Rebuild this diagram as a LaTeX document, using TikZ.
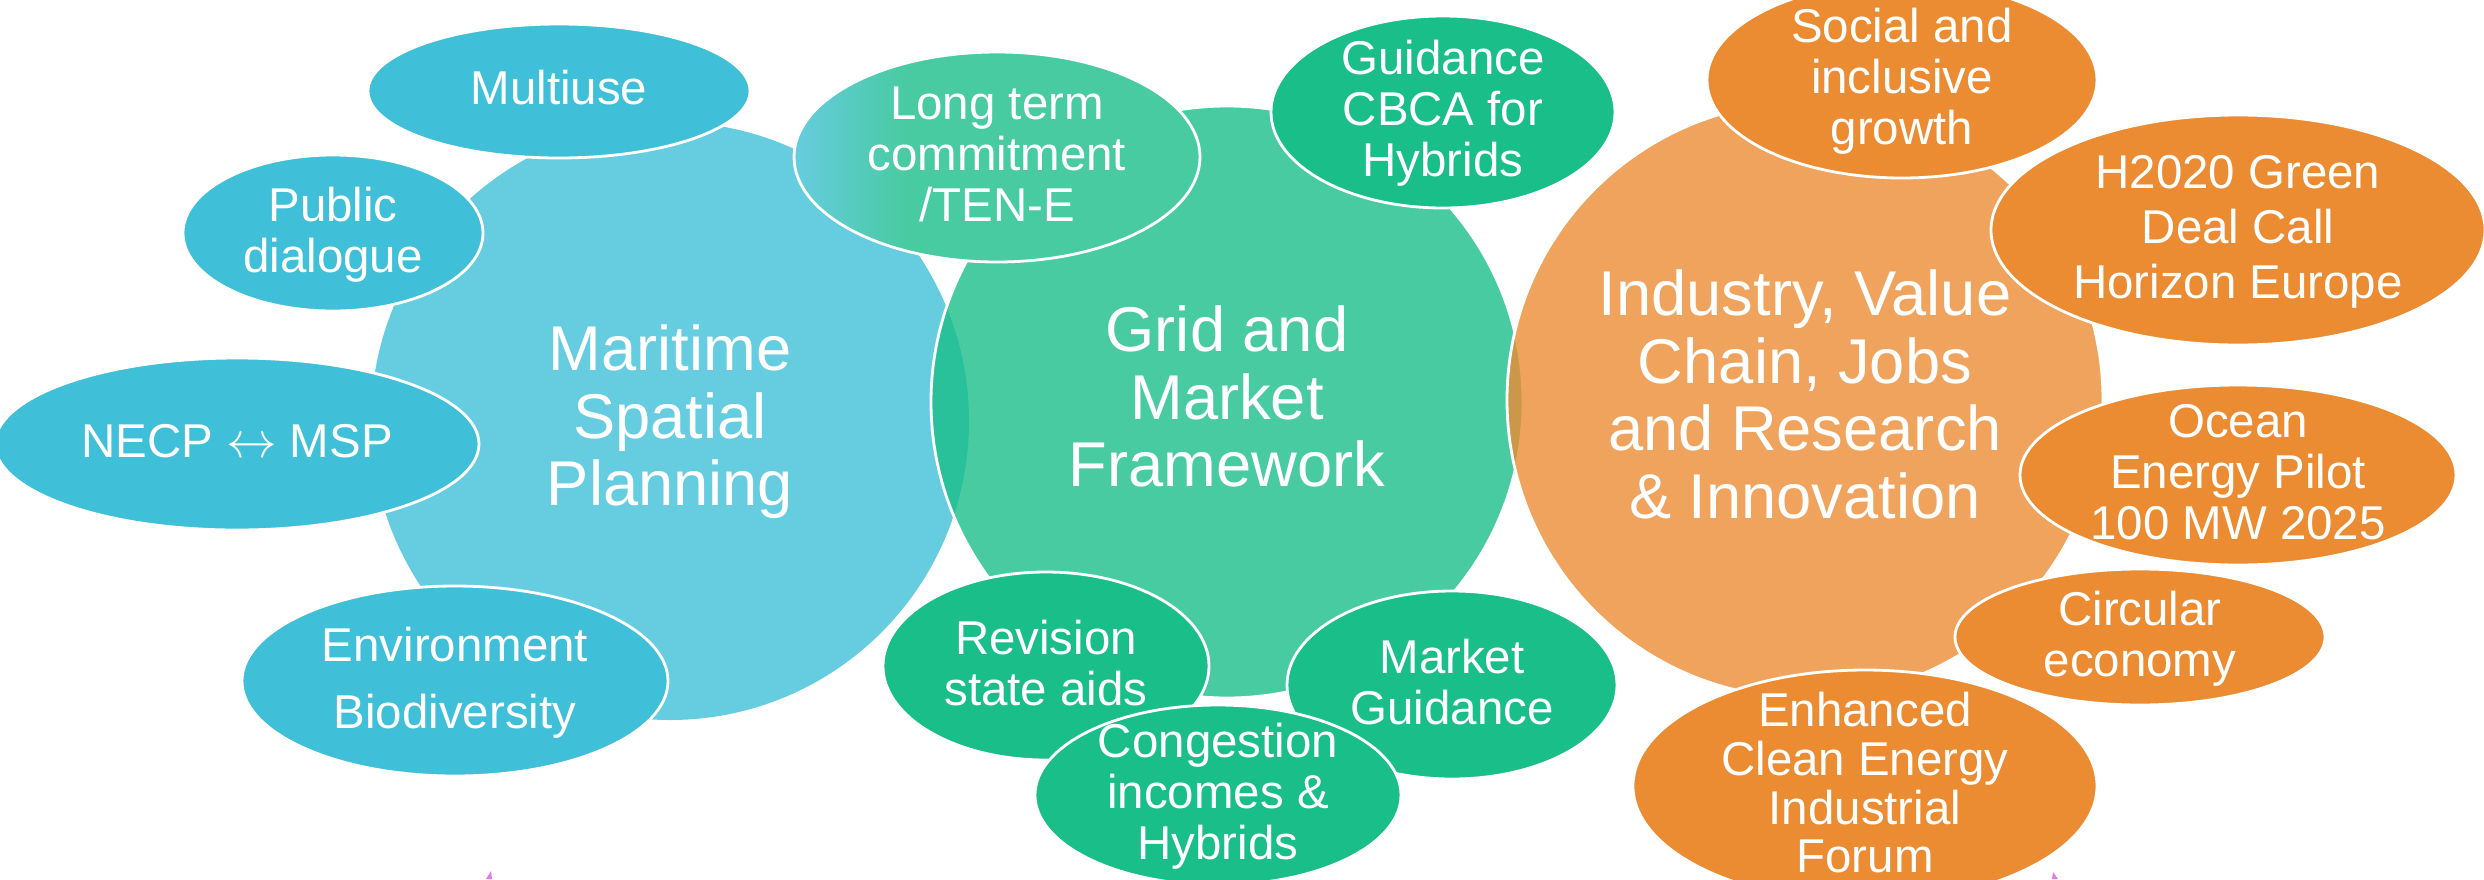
\documentclass[tikz,border=0pt]{standalone}
\usepackage{fontspec}
\setmainfont{Liberation Sans}
\usetikzlibrary{shapes.geometric}

\definecolor{mspblue}{HTML}{40BFD8}
\definecolor{gridgreen}{HTML}{1ABE88}
\definecolor{indorange}{HTML}{EB8C33}
\definecolor{markpink}{HTML}{E27CE8}
\pgfdeclarehorizontalshading{bluetogreen}{100bp}{color(0bp)=(mspblue!80!white); color(25bp)=(mspblue!80!white); color(39bp)=(gridgreen!80!white); color(100bp)=(gridgreen!80!white)}
% text of a bubble, kept out of the size of the shape
\newcommand{\bub}[1]{\vbox to 0pt{\kern2pt\vss\hbox to 0pt{\hss\begin{tabular}{@{}c@{}}#1\end{tabular}\hss}\vss}}

\begin{document}
\begin{tikzpicture}[bignode/.style={circle,inner sep=0pt,fill opacity=0.8,text opacity=1,text=white,font=\fontsize{18}{19.2}\selectfont},
  smallnode/.style={ellipse,inner sep=0pt,draw=white,line width=0.8pt,text=white,font=\fontsize{13.5}{14.5}\selectfont}]
\useasboundingbox (0,0) rectangle (24.84,8.79);
% three main fields
\node [bignode,fill=mspblue,minimum size=5.98cm] (msp) at (6.70,4.58) {\bub{Maritime\\Spatial\\Planning}};
\node [bignode,fill=gridgreen,draw=white,line width=0.8pt,minimum size=5.92cm] (grid) at (12.27,4.77) {\bub{Grid and\\Market\\Framework}};
\node [bignode,fill=indorange,draw=white,line width=0.8pt,minimum size=5.96cm] (industry) at (18.05,4.79) {\bub{Industry, Value\\Chain, Jobs\\and Research\\\& Innovation}};
% actions
  \foreach \nm/\x/\y/\ew/\eh/\txt in {multiuse/5.59/7.88/3.82/1.34/{Multiuse},
    dialogue/3.33/6.46/3.00/1.56/{Public\\dialogue},
    necp/2.37/4.35/4.84/1.72/{NECP $\leftrightarrow$ MSP},
    environment/4.55/1.98/4.26/1.90/{Environment\\[4.5pt]Biodiversity}}
  {  \node [smallnode,fill=mspblue,minimum width=\ew cm,minimum height=\eh cm] (\nm) at (\x,\y) {\bub{\txt}};}
\node [smallnode,shading=bluetogreen,minimum width=4.06cm,minimum height=2.10cm] (longterm) at (9.97,7.22) {\bub{Long term\\commitment\\/TEN-E}};
  \foreach \nm/\x/\y/\ew/\eh/\txt in {cbca/14.43/7.67/3.44/1.92/{Guidance\\CBCA for\\Hybrids},
    stateaids/10.46/2.13/3.26/1.88/{Revision\\state aids},
    marketguide/14.52/1.94/3.30/1.88/{Market\\Guidance},
    congestion/12.18/0.84/3.66/1.80/{Congestion\\incomes \&\\Hybrids}}
  {  \node [smallnode,fill=gridgreen,minimum width=\ew cm,minimum height=\eh cm] (\nm) at (\x,\y) {\bub{\txt}};}
  \foreach \nm/\x/\y/\ew/\eh/\txt in {social/19.02/7.99/3.90/1.96/{Social and\\inclusive\\growth},
    horizon/22.38/6.49/4.94/2.30/{H2020 Green\\[1.2pt]Deal Call\\[1.2pt]Horizon Europe},
    ocean/22.38/4.04/4.36/1.80/{Ocean\\Energy Pilot\\100 MW 2025},
    forum/18.65/0.93/4.64/2.32/{Enhanced\\[-0.6pt]Clean Energy\\[-0.6pt]Industrial\\[-0.6pt]Forum},
    circular/21.40/2.42/3.70/1.36/{Circular\\economy}}
  {  \node [smallnode,fill=indorange,minimum width=\ew cm,minimum height=\eh cm] (\nm) at (\x,\y) {\bub{\txt}};}
% stray marks at the lower edge
\fill [markpink] (4.86,0) -- (4.91,0.08) -- (4.92,0) -- cycle;
\fill [markpink] (20.52,0) -- (20.53,0.07) -- (20.58,0) -- cycle;
\end{tikzpicture}
\end{document}
